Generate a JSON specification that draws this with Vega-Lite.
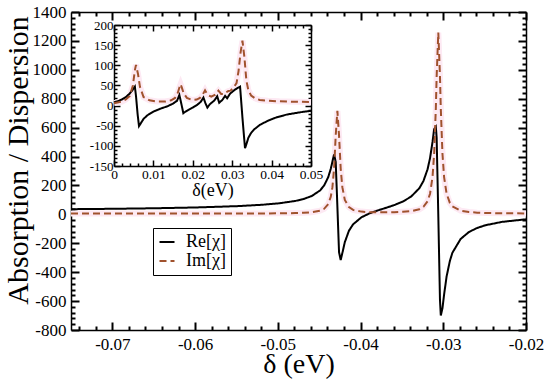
{
  "$schema": "https://vega.github.io/schema/vega-lite/v6.json",
  "width": 455,
  "height": 318,
  "autosize": "none",
  "padding": {"left": 71, "top": 12, "right": 24, "bottom": 53},
  "background": "white",
  "config": {
    "view": {"stroke": null},
    "axis": {"grid": false, "domainColor": "#000", "domainWidth": 1.5, "ticks": true, "tickColor": "#000", "tickWidth": 2, "tickOpacity": 1, "tickCap": "butt", "zindex": 1, "labelColor": "#000", "titleColor": "#000", "labelFont": "Liberation Serif", "titleFont": "Liberation Serif", "titleFontWeight": "normal", "labelFlush": false, "labelOverlap": false}
  },
  "datasets": {
    "main": [
      {"d": -0.075, "v": 35.8, "s": "Re[χ]"}, {"d": -0.0699, "v": 38.5, "s": "Re[χ]"}, {"d": -0.0649, "v": 42.2, "s": "Re[χ]"}, {"d": -0.0599, "v": 47.7, "s": "Re[χ]"}, {"d": -0.0549, "v": 56.9, "s": "Re[χ]"}, {"d": -0.0519, "v": 66.3, "s": "Re[χ]"}, {"d": -0.0499, "v": 76.1, "s": "Re[χ]"}, {"d": -0.0479, "v": 92.5, "s": "Re[χ]"}, {"d": -0.0469, "v": 105.9, "s": "Re[χ]"}, {"d": -0.0459, "v": 126.8, "s": "Re[χ]"}, {"d": -0.0449, "v": 165.2, "s": "Re[χ]"}, {"d": -0.0444, "v": 199.7, "s": "Re[χ]"}, {"d": -0.0439, "v": 258.4, "s": "Re[χ]"}, {"d": -0.0436, "v": 315.3, "s": "Re[χ]"}, {"d": -0.0434, "v": 364.6, "s": "Re[χ]"}, {"d": -0.0432, "v": 415, "s": "Re[χ]"}, {"d": -0.043, "v": 362.5, "s": "Re[χ]"}, {"d": -0.0428, "v": 54.2, "s": "Re[χ]"}, {"d": -0.0426, "v": -262, "s": "Re[χ]"}, {"d": -0.0424, "v": -316, "s": "Re[χ]"}, {"d": -0.0422, "v": -268, "s": "Re[χ]"}, {"d": -0.0419, "v": -192, "s": "Re[χ]"}, {"d": -0.0414, "v": -113, "s": "Re[χ]"}, {"d": -0.0409, "v": -69, "s": "Re[χ]"}, {"d": -0.0399, "v": -20.5, "s": "Re[χ]"}, {"d": -0.0389, "v": 7.3, "s": "Re[χ]"}, {"d": -0.0379, "v": 27.4, "s": "Re[χ]"}, {"d": -0.0369, "v": 45.5, "s": "Re[χ]"}, {"d": -0.0359, "v": 64.7, "s": "Re[χ]"}, {"d": -0.0349, "v": 88.3, "s": "Re[χ]"}, {"d": -0.0339, "v": 122.2, "s": "Re[χ]"}, {"d": -0.0329, "v": 180.4, "s": "Re[χ]"}, {"d": -0.0324, "v": 230.3, "s": "Re[χ]"}, {"d": -0.0319, "v": 311.8, "s": "Re[χ]"}, {"d": -0.0316, "v": 389.1, "s": "Re[χ]"}, {"d": -0.0313, "v": 501, "s": "Re[χ]"}, {"d": -0.0311, "v": 589.5, "s": "Re[χ]"}, {"d": -0.0309, "v": 606, "s": "Re[χ]"}, {"d": -0.0308, "v": 530, "s": "Re[χ]"}, {"d": -0.0306, "v": -10, "s": "Re[χ]"}, {"d": -0.0304, "v": -590, "s": "Re[χ]"}, {"d": -0.0303, "v": -700, "s": "Re[χ]"}, {"d": -0.0301, "v": -650, "s": "Re[χ]"}, {"d": -0.0299, "v": -555, "s": "Re[χ]"}, {"d": -0.0296, "v": -430, "s": "Re[χ]"}, {"d": -0.0292, "v": -322, "s": "Re[χ]"}, {"d": -0.0289, "v": -266, "s": "Re[χ]"}, {"d": -0.0279, "v": -170, "s": "Re[χ]"}, {"d": -0.0269, "v": -122, "s": "Re[χ]"}, {"d": -0.0259, "v": -94, "s": "Re[χ]"}, {"d": -0.0249, "v": -75, "s": "Re[χ]"}, {"d": -0.0229, "v": -52, "s": "Re[χ]"}, {"d": -0.02, "v": -34.2, "s": "Re[χ]"},
      {"d": -0.075, "v": 5.2, "s": "Im[χ]"}, {"d": -0.0699, "v": 5.2, "s": "Im[χ]"}, {"d": -0.0649, "v": 5.3, "s": "Im[χ]"}, {"d": -0.0599, "v": 5.5, "s": "Im[χ]"}, {"d": -0.0549, "v": 5.9, "s": "Im[χ]"}, {"d": -0.0519, "v": 6.4, "s": "Im[χ]"}, {"d": -0.0499, "v": 7.2, "s": "Im[χ]"}, {"d": -0.0479, "v": 8.9, "s": "Im[χ]"}, {"d": -0.0469, "v": 10.8, "s": "Im[χ]"}, {"d": -0.0459, "v": 14.7, "s": "Im[χ]"}, {"d": -0.0449, "v": 25.1, "s": "Im[χ]"}, {"d": -0.0444, "v": 38.6, "s": "Im[χ]"}, {"d": -0.0439, "v": 71.8, "s": "Im[χ]"}, {"d": -0.0436, "v": 121, "s": "Im[χ]"}, {"d": -0.0434, "v": 188, "s": "Im[χ]"}, {"d": -0.0432, "v": 317, "s": "Im[χ]"}, {"d": -0.043, "v": 546, "s": "Im[χ]"}, {"d": -0.0428, "v": 716, "s": "Im[χ]"}, {"d": -0.0426, "v": 546, "s": "Im[χ]"}, {"d": -0.0424, "v": 317, "s": "Im[χ]"}, {"d": -0.0422, "v": 188, "s": "Im[χ]"}, {"d": -0.0419, "v": 100, "s": "Im[χ]"}, {"d": -0.0414, "v": 50, "s": "Im[χ]"}, {"d": -0.0409, "v": 31, "s": "Im[χ]"}, {"d": -0.0399, "v": 19, "s": "Im[χ]"}, {"d": -0.0389, "v": 15, "s": "Im[χ]"}, {"d": -0.0379, "v": 14, "s": "Im[χ]"}, {"d": -0.0369, "v": 14, "s": "Im[χ]"}, {"d": -0.0359, "v": 15, "s": "Im[χ]"}, {"d": -0.0349, "v": 18, "s": "Im[χ]"}, {"d": -0.0339, "v": 22, "s": "Im[χ]"}, {"d": -0.0329, "v": 35, "s": "Im[χ]"}, {"d": -0.0324, "v": 52, "s": "Im[χ]"}, {"d": -0.0319, "v": 91, "s": "Im[χ]"}, {"d": -0.0316, "v": 143, "s": "Im[χ]"}, {"d": -0.0313, "v": 258, "s": "Im[χ]"}, {"d": -0.0311, "v": 421, "s": "Im[χ]"}, {"d": -0.0309, "v": 733, "s": "Im[χ]"}, {"d": -0.0308, "v": 956, "s": "Im[χ]"}, {"d": -0.0306, "v": 1258, "s": "Im[χ]"}, {"d": -0.0304, "v": 956, "s": "Im[χ]"}, {"d": -0.0303, "v": 733, "s": "Im[χ]"}, {"d": -0.0301, "v": 421, "s": "Im[χ]"}, {"d": -0.0299, "v": 258, "s": "Im[χ]"}, {"d": -0.0296, "v": 143, "s": "Im[χ]"}, {"d": -0.0292, "v": 79, "s": "Im[χ]"}, {"d": -0.0289, "v": 56, "s": "Im[χ]"}, {"d": -0.0279, "v": 26, "s": "Im[χ]"}, {"d": -0.0269, "v": 16, "s": "Im[χ]"}, {"d": -0.0259, "v": 12, "s": "Im[χ]"}, {"d": -0.0249, "v": 9.7, "s": "Im[χ]"}, {"d": -0.0229, "v": 7.6, "s": "Im[χ]"}, {"d": -0.02, "v": 6.5, "s": "Im[χ]"}
    ],
    "inset": [
      {"d": 0, "v": 8, "s": "Re[χ]"}, {"d": 0.001, "v": 11, "s": "Re[χ]"}, {"d": 0.002, "v": 15, "s": "Re[χ]"}, {"d": 0.003, "v": 21, "s": "Re[χ]"}, {"d": 0.004, "v": 30, "s": "Re[χ]"}, {"d": 0.0045, "v": 36, "s": "Re[χ]"}, {"d": 0.005, "v": 43, "s": "Re[χ]"}, {"d": 0.0053, "v": 47, "s": "Re[χ]"}, {"d": 0.0056, "v": 22, "s": "Re[χ]"}, {"d": 0.006, "v": -22, "s": "Re[χ]"}, {"d": 0.00635, "v": -51, "s": "Re[χ]"}, {"d": 0.0068, "v": -44, "s": "Re[χ]"}, {"d": 0.0075, "v": -33, "s": "Re[χ]"}, {"d": 0.0085, "v": -24, "s": "Re[χ]"}, {"d": 0.01, "v": -15, "s": "Re[χ]"}, {"d": 0.0117, "v": -8, "s": "Re[χ]"}, {"d": 0.0135, "v": -2, "s": "Re[χ]"}, {"d": 0.015, "v": 5, "s": "Re[χ]"}, {"d": 0.016, "v": 12, "s": "Re[χ]"}, {"d": 0.0166, "v": 26, "s": "Re[χ]"}, {"d": 0.0171, "v": 4, "s": "Re[χ]"}, {"d": 0.0176, "v": -19, "s": "Re[χ]"}, {"d": 0.018, "v": -16, "s": "Re[χ]"}, {"d": 0.019, "v": -10, "s": "Re[χ]"}, {"d": 0.02, "v": -5, "s": "Re[χ]"}, {"d": 0.021, "v": 1, "s": "Re[χ]"}, {"d": 0.022, "v": 9, "s": "Re[χ]"}, {"d": 0.0227, "v": 20, "s": "Re[χ]"}, {"d": 0.0232, "v": 6, "s": "Re[χ]"}, {"d": 0.0237, "v": -5, "s": "Re[χ]"}, {"d": 0.0243, "v": 3, "s": "Re[χ]"}, {"d": 0.0255, "v": 13, "s": "Re[χ]"}, {"d": 0.0262, "v": 23, "s": "Re[χ]"}, {"d": 0.0267, "v": 7, "s": "Re[χ]"}, {"d": 0.0275, "v": 14, "s": "Re[χ]"}, {"d": 0.0282, "v": 24, "s": "Re[χ]"}, {"d": 0.0287, "v": 18, "s": "Re[χ]"}, {"d": 0.0295, "v": 30, "s": "Re[χ]"}, {"d": 0.0305, "v": 38, "s": "Re[χ]"}, {"d": 0.0314, "v": 44, "s": "Re[χ]"}, {"d": 0.032, "v": 47, "s": "Re[χ]"}, {"d": 0.0326, "v": -30, "s": "Re[χ]"}, {"d": 0.03325, "v": -106, "s": "Re[χ]"}, {"d": 0.0336, "v": -96, "s": "Re[χ]"}, {"d": 0.0341, "v": -80, "s": "Re[χ]"}, {"d": 0.0348, "v": -68, "s": "Re[χ]"}, {"d": 0.0356, "v": -59, "s": "Re[χ]"}, {"d": 0.037, "v": -48, "s": "Re[χ]"}, {"d": 0.039, "v": -38, "s": "Re[χ]"}, {"d": 0.0413, "v": -29, "s": "Re[χ]"}, {"d": 0.044, "v": -22, "s": "Re[χ]"}, {"d": 0.047, "v": -17, "s": "Re[χ]"}, {"d": 0.05, "v": -13, "s": "Re[χ]"},
      {"d": 0, "v": 6, "s": "Im[χ]"}, {"d": 0.002, "v": 10, "s": "Im[χ]"}, {"d": 0.003, "v": 15, "s": "Im[χ]"}, {"d": 0.004, "v": 24, "s": "Im[χ]"}, {"d": 0.0048, "v": 50, "s": "Im[χ]"}, {"d": 0.0053, "v": 88, "s": "Im[χ]"}, {"d": 0.00558, "v": 101, "s": "Im[χ]"}, {"d": 0.0061, "v": 78, "s": "Im[χ]"}, {"d": 0.0066, "v": 46, "s": "Im[χ]"}, {"d": 0.0075, "v": 21, "s": "Im[χ]"}, {"d": 0.009, "v": 13, "s": "Im[χ]"}, {"d": 0.011, "v": 10, "s": "Im[χ]"}, {"d": 0.013, "v": 10, "s": "Im[χ]"}, {"d": 0.0145, "v": 13, "s": "Im[χ]"}, {"d": 0.0155, "v": 19, "s": "Im[χ]"}, {"d": 0.0162, "v": 32, "s": "Im[χ]"}, {"d": 0.0166, "v": 45, "s": "Im[χ]"}, {"d": 0.0169, "v": 53, "s": "Im[χ]"}, {"d": 0.0172, "v": 45, "s": "Im[χ]"}, {"d": 0.0177, "v": 30, "s": "Im[χ]"}, {"d": 0.0185, "v": 19, "s": "Im[χ]"}, {"d": 0.0198, "v": 14, "s": "Im[χ]"}, {"d": 0.021, "v": 15, "s": "Im[χ]"}, {"d": 0.0218, "v": 19, "s": "Im[χ]"}, {"d": 0.0225, "v": 27, "s": "Im[χ]"}, {"d": 0.0231, "v": 38, "s": "Im[χ]"}, {"d": 0.0237, "v": 27, "s": "Im[χ]"}, {"d": 0.0247, "v": 22, "s": "Im[χ]"}, {"d": 0.0257, "v": 27, "s": "Im[χ]"}, {"d": 0.0265, "v": 37, "s": "Im[χ]"}, {"d": 0.0272, "v": 29, "s": "Im[χ]"}, {"d": 0.0279, "v": 29, "s": "Im[χ]"}, {"d": 0.0285, "v": 33, "s": "Im[χ]"}, {"d": 0.029, "v": 36, "s": "Im[χ]"}, {"d": 0.0296, "v": 37, "s": "Im[χ]"}, {"d": 0.0302, "v": 44, "s": "Im[χ]"}, {"d": 0.0307, "v": 50, "s": "Im[χ]"}, {"d": 0.0311, "v": 56, "s": "Im[χ]"}, {"d": 0.0316, "v": 85, "s": "Im[χ]"}, {"d": 0.0321, "v": 130, "s": "Im[χ]"}, {"d": 0.0326, "v": 161, "s": "Im[χ]"}, {"d": 0.0331, "v": 120, "s": "Im[χ]"}, {"d": 0.0336, "v": 62, "s": "Im[χ]"}, {"d": 0.0341, "v": 38, "s": "Im[χ]"}, {"d": 0.0348, "v": 25, "s": "Im[χ]"}, {"d": 0.0358, "v": 18, "s": "Im[χ]"}, {"d": 0.037, "v": 14, "s": "Im[χ]"}, {"d": 0.039, "v": 12, "s": "Im[χ]"}, {"d": 0.042, "v": 10.5, "s": "Im[χ]"}, {"d": 0.046, "v": 9.5, "s": "Im[χ]"}, {"d": 0.05, "v": 9, "s": "Im[χ]"}
    ]
  },
  "layer": [
    {
      "data": {"name": "main"},
      "transform": [{"filter": "datum.s == 'Im[χ]'"}],
      "mark": {"type": "line", "color": "#fde9f3", "strokeWidth": 6, "strokeCap": "butt"},
      "encoding": {
        "x": {"field": "d", "type": "quantitative", "scale": {"domain": [-0.075, -0.02], "nice": false, "zero": false},
          "axis": {"orient": "bottom", "ticks": false, "values": [-0.07, -0.06, -0.05, -0.04, -0.03, -0.02], "labelExpr": "'' + datum.value",
            "labelFontSize": 17, "labelPadding": 6, "title": "δ (eV)", "titleFontSize": 28, "titleY": 42.5, "titleBaseline": "alphabetic"}},
        "y": {"field": "v", "type": "quantitative", "scale": {"domain": [-800, 1400], "nice": false, "zero": false},
          "axis": {"orient": "left", "ticks": false, "values": [-800, -600, -400, -200, 0, 200, 400, 600, 800, 1000, 1200, 1400], "labelExpr": "'' + datum.value",
            "labelFontSize": 17, "labelPadding": 5, "title": "Absorption / Dispersion", "titleFontSize": 30, "titleX": -43.5, "titleY": 148, "titleBaseline": "alphabetic", "titleAngle": 270}}
      }
    },
    {
      "data": {"name": "main"},
      "mark": {"type": "line", "strokeWidth": 2},
      "encoding": {
        "x": {"field": "d", "type": "quantitative", "scale": {"domain": [-0.075, -0.02], "nice": false, "zero": false},
          "axis": {"orient": "top", "offset": -318, "domain": false, "labels": false, "title": null, "tickSize": 8, "values": [-0.07, -0.06, -0.05, -0.04, -0.03, -0.02]}},
        "y": {"field": "v", "type": "quantitative", "scale": {"domain": [-800, 1400], "nice": false, "zero": false},
          "axis": {"orient": "right", "offset": -455, "domain": false, "labels": false, "title": null, "tickSize": 8, "values": [-800, -600, -400, -200, 0, 200, 400, 600, 800, 1000, 1200, 1400]}},
        "color": {"field": "s", "type": "nominal", "scale": {"domain": ["Re[χ]", "Im[χ]"], "range": ["#000000", "#a0522d"]},
          "legend": {"orient": "none", "legendX": 82, "legendY": 216, "title": null, "strokeColor": "#000", "fillColor": "#fff", "padding": 5, "labelFont": "Liberation Serif", "labelFontSize": 18, "labelColor": "#000", "symbolType": "stroke", "symbolStrokeWidth": 2, "symbolSize": 225, "labelOffset": 10, "rowPadding": 1}},
        "strokeDash": {"field": "s", "type": "nominal", "scale": {"domain": ["Re[χ]", "Im[χ]"], "range": [[1, 0], [7, 4]]},
          "legend": {"orient": "none", "legendX": 82, "legendY": 216, "title": null, "strokeColor": "#000", "fillColor": "#fff", "padding": 5, "labelFont": "Liberation Serif", "labelFontSize": 18, "labelColor": "#000", "symbolType": "stroke", "symbolStrokeWidth": 2, "symbolSize": 225, "labelOffset": 10, "rowPadding": 1}}
      }
    },
    {
      "data": {"name": "main"},
      "mark": {"type": "line", "opacity": 0},
      "encoding": {
        "x": {"field": "d", "type": "quantitative", "scale": {"domain": [-0.075, -0.02], "nice": false, "zero": false},
          "axis": {"orient": "bottom", "offset": -318, "labels": false, "title": null, "tickSize": 8, "values": [-0.07, -0.06, -0.05, -0.04, -0.03, -0.02]}},
        "y": {"field": "v", "type": "quantitative", "scale": {"domain": [-800, 1400], "nice": false, "zero": false},
          "axis": {"orient": "left", "offset": -455, "labels": false, "title": null, "tickSize": 8, "values": [-800, -600, -400, -200, 0, 200, 400, 600, 800, 1000, 1200, 1400]}}
      }
    },
    {
      "data": {"name": "main"},
      "mark": {"type": "line", "opacity": 0},
      "encoding": {
        "x": {"field": "d", "type": "quantitative", "scale": {"domain": [-0.075, -0.02], "nice": false, "zero": false},
          "axis": {"orient": "top", "offset": -318, "domain": false, "labels": false, "title": null, "tickSize": 4, "values": [-0.074, -0.072, -0.068, -0.066, -0.064, -0.062, -0.058, -0.056, -0.054, -0.052, -0.048, -0.046, -0.044, -0.042, -0.038, -0.036, -0.034, -0.032, -0.028, -0.026, -0.024, -0.022]}},
        "y": {"field": "v", "type": "quantitative", "scale": {"domain": [-800, 1400], "nice": false, "zero": false},
          "axis": {"orient": "right", "offset": -455, "domain": false, "labels": false, "title": null, "tickSize": 4, "values": [-760, -720, -680, -640, -560, -520, -480, -440, -360, -320, -280, -240, -160, -120, -80, -40, 40, 80, 120, 160, 240, 280, 320, 360, 440, 480, 520, 560, 640, 680, 720, 760, 840, 880, 920, 960, 1040, 1080, 1120, 1160, 1240, 1280, 1320, 1360]}}
      }
    },
    {
      "data": {"name": "main"},
      "mark": {"type": "line", "opacity": 0},
      "encoding": {
        "x": {"field": "d", "type": "quantitative", "scale": {"domain": [-0.075, -0.02], "nice": false, "zero": false},
          "axis": {"orient": "bottom", "offset": -318, "domain": false, "labels": false, "title": null, "tickSize": 4, "values": [-0.074, -0.072, -0.068, -0.066, -0.064, -0.062, -0.058, -0.056, -0.054, -0.052, -0.048, -0.046, -0.044, -0.042, -0.038, -0.036, -0.034, -0.032, -0.028, -0.026, -0.024, -0.022]}},
        "y": {"field": "v", "type": "quantitative", "scale": {"domain": [-800, 1400], "nice": false, "zero": false},
          "axis": {"orient": "left", "offset": -455, "domain": false, "labels": false, "title": null, "tickSize": 4, "values": [-760, -720, -680, -640, -560, -520, -480, -440, -360, -320, -280, -240, -160, -120, -80, -40, 40, 80, 120, 160, 240, 280, 320, 360, 440, 480, 520, 560, 640, 680, 720, 760, 840, 880, 920, 960, 1040, 1080, 1120, 1160, 1240, 1280, 1320, 1360]}}
      }
    },
    {
      "data": {"name": "inset"},
      "transform": [{"filter": "datum.s == 'Im[χ]'"}],
      "mark": {"type": "line", "color": "#fde9f3", "strokeWidth": 6, "strokeCap": "butt"},
      "encoding": {
        "x": {"field": "d", "type": "quantitative", "scale": {"domain": [0, 0.05], "range": [43, 240], "nice": false, "zero": false},
          "axis": {"orient": "bottom", "offset": -164, "ticks": false, "values": [0, 0.01, 0.02, 0.03, 0.04, 0.05], "labelExpr": "'' + datum.value",
            "labelFontSize": 13.5, "labelPadding": 1, "title": "δ(eV)", "titleFontSize": 18, "titleY": 29, "titleBaseline": "alphabetic"}},
        "y": {"field": "v", "type": "quantitative", "scale": {"domain": [-150, 200], "range": [154, 13], "nice": false, "zero": false},
          "axis": {"orient": "left", "offset": -43, "ticks": false, "values": [-150, -100, -50, 0, 50, 100, 150, 200], "labelExpr": "'' + datum.value",
            "labelFontSize": 13, "labelPadding": 1, "title": null}}
      }
    },
    {
      "data": {"name": "inset"},
      "mark": {"type": "line", "strokeWidth": 2},
      "encoding": {
        "x": {"field": "d", "type": "quantitative", "scale": {"domain": [0, 0.05], "range": [43, 240], "nice": false, "zero": false},
          "axis": {"orient": "top", "offset": -154, "domain": false, "labels": false, "title": null, "tickSize": 6, "tickWidth": 1.5, "values": [0, 0.01, 0.02, 0.03, 0.04, 0.05]}},
        "y": {"field": "v", "type": "quantitative", "scale": {"domain": [-150, 200], "range": [154, 13], "nice": false, "zero": false},
          "axis": {"orient": "right", "offset": -412, "domain": false, "labels": false, "title": null, "tickSize": 6, "tickWidth": 1.5, "values": [-150, -100, -50, 0, 50, 100, 150, 200]}},
        "color": {"field": "s", "type": "nominal", "legend": null},
        "strokeDash": {"field": "s", "type": "nominal", "legend": null}
      }
    },
    {
      "data": {"name": "inset"},
      "mark": {"type": "line", "opacity": 0},
      "encoding": {
        "x": {"field": "d", "type": "quantitative", "scale": {"domain": [0, 0.05], "range": [43, 240], "nice": false, "zero": false},
          "axis": {"orient": "bottom", "offset": -305, "labels": false, "title": null, "tickSize": 6, "tickWidth": 1.5, "values": [0, 0.01, 0.02, 0.03, 0.04, 0.05]}},
        "y": {"field": "v", "type": "quantitative", "scale": {"domain": [-150, 200], "range": [154, 13], "nice": false, "zero": false},
          "axis": {"orient": "left", "offset": -240, "labels": false, "title": null, "tickSize": 6, "tickWidth": 1.5, "values": [-150, -100, -50, 0, 50, 100, 150, 200]}}
      }
    },
    {
      "data": {"name": "inset"},
      "mark": {"type": "line", "opacity": 0},
      "encoding": {
        "x": {"field": "d", "type": "quantitative", "scale": {"domain": [0, 0.05], "range": [43, 240], "nice": false, "zero": false},
          "axis": {"orient": "top", "offset": -154, "domain": false, "labels": false, "title": null, "tickSize": 3, "tickWidth": 1.5, "values": [0.002, 0.004, 0.006, 0.008, 0.012, 0.014, 0.016, 0.018, 0.022, 0.024, 0.026, 0.028, 0.032, 0.034, 0.036, 0.038, 0.042, 0.044, 0.046, 0.048]}},
        "y": {"field": "v", "type": "quantitative", "scale": {"domain": [-150, 200], "range": [154, 13], "nice": false, "zero": false},
          "axis": {"orient": "right", "offset": -412, "domain": false, "labels": false, "title": null, "tickSize": 3, "tickWidth": 1.5, "values": [-140, -130, -120, -110, -90, -80, -70, -60, -40, -30, -20, -10, 10, 20, 30, 40, 60, 70, 80, 90, 110, 120, 130, 140, 160, 170, 180, 190]}}
      }
    },
    {
      "data": {"name": "inset"},
      "mark": {"type": "line", "opacity": 0},
      "encoding": {
        "x": {"field": "d", "type": "quantitative", "scale": {"domain": [0, 0.05], "range": [43, 240], "nice": false, "zero": false},
          "axis": {"orient": "bottom", "offset": -305, "domain": false, "labels": false, "title": null, "tickSize": 3, "tickWidth": 1.5, "values": [0.002, 0.004, 0.006, 0.008, 0.012, 0.014, 0.016, 0.018, 0.022, 0.024, 0.026, 0.028, 0.032, 0.034, 0.036, 0.038, 0.042, 0.044, 0.046, 0.048]}},
        "y": {"field": "v", "type": "quantitative", "scale": {"domain": [-150, 200], "range": [154, 13], "nice": false, "zero": false},
          "axis": {"orient": "left", "offset": -240, "domain": false, "labels": false, "title": null, "tickSize": 3, "tickWidth": 1.5, "values": [-140, -130, -120, -110, -90, -80, -70, -60, -40, -30, -20, -10, 10, 20, 30, 40, 60, 70, 80, 90, 110, 120, 130, 140, 160, 170, 180, 190]}}
      }
    }
  ],
  "resolve": {"scale": {"x": "independent", "y": "independent"}}
}
